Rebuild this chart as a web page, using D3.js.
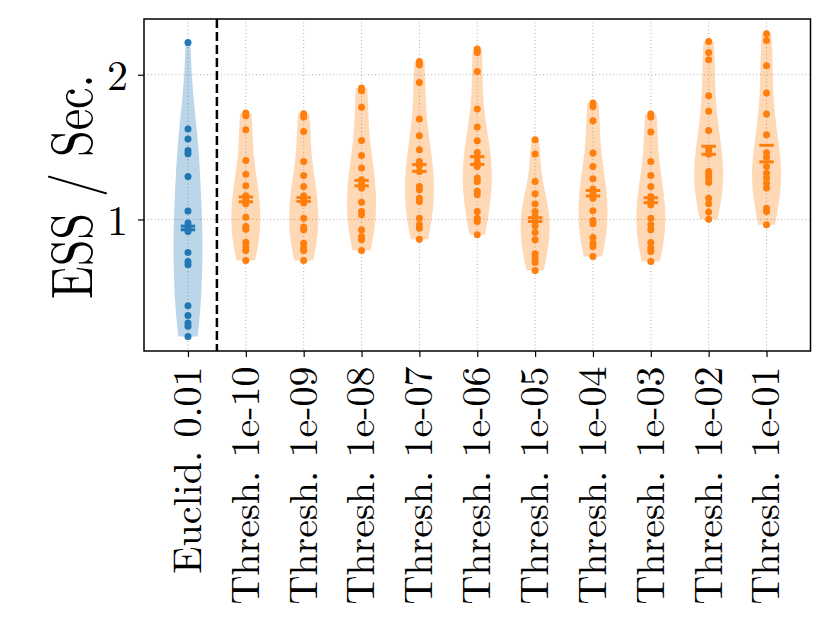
<!DOCTYPE html>
<html>
<head>
<meta charset="utf-8">
<script src="https://cdn.jsdelivr.net/npm/d3@7"></script>
<style>
  body { margin: 0; background: #fff; }
  text { font-family: 'Latin Modern Roman', 'Liberation Serif', monospace; fill: #000; }
</style>
</head>
<body>
<div id="chart"></div>
<script>
// labels for each violin
var labels = ["Euclid. 0.01", "Thresh. 1e-10", "Thresh. 1e-09", "Thresh. 1e-08", "Thresh. 1e-07",
  "Thresh. 1e-06", "Thresh. 1e-05", "Thresh. 1e-04", "Thresh. 1e-03", "Thresh. 1e-02", "Thresh. 1e-01"];

// ESS / sec per run
var euclid = [2.223, 1.625, 1.556, 1.477, 1.454, 1.297, 1.058, 0.975, 0.940, 0.917, 0.772, 0.710, 0.687, 0.404, 0.337, 0.285, 0.262, 0.191];
var t1e10 = [1.735, 1.717, 1.620, 1.408, 1.313, 1.233, 1.164, 1.136, 1.108, 1.016, 0.952, 0.933, 0.843, 0.809, 0.786, 0.717];
var t1e09 = [1.730, 1.707, 1.608, 1.401, 1.304, 1.228, 1.164, 1.136, 1.113, 1.009, 0.947, 0.929, 0.836, 0.802, 0.786, 0.717];
var t1e08 = [1.908, 1.889, 1.776, 1.546, 1.442, 1.355, 1.274, 1.247, 1.217, 1.118, 1.055, 1.032, 0.929, 0.883, 0.859, 0.786];
var t1e07 = [2.092, 2.069, 1.947, 1.694, 1.578, 1.482, 1.401, 1.371, 1.332, 1.228, 1.205, 1.147, 1.124, 1.009, 0.963, 0.940, 0.864];
var t1e06 = [2.177, 2.154, 2.023, 1.763, 1.638, 1.544, 1.463, 1.431, 1.394, 1.366, 1.286, 1.263, 1.194, 1.171, 1.055, 1.009, 0.986, 0.894];
var t1e05 = [1.551, 1.452, 1.263, 1.177, 1.106, 1.055, 1.021, 0.986, 0.956, 0.910, 0.860, 0.763, 0.733, 0.703, 0.648];
var t1e04 = [1.804, 1.781, 1.682, 1.459, 1.366, 1.281, 1.210, 1.177, 1.147, 1.060, 0.993, 0.970, 0.876, 0.837, 0.813, 0.744];
var t1e03 = [1.728, 1.707, 1.604, 1.401, 1.304, 1.228, 1.159, 1.131, 1.101, 1.009, 0.963, 0.929, 0.841, 0.802, 0.779, 0.710];
var t1e02 = [2.230, 2.154, 2.104, 1.855, 1.747, 1.615, 1.486, 1.463, 1.450, 1.332, 1.309, 1.286, 1.256, 1.147, 1.108, 1.051, 1.002];
var t1e01 = [2.283, 2.237, 2.062, 1.873, 1.728, 1.585, 1.460, 1.430, 1.366, 1.320, 1.286, 1.251, 1.217, 1.078, 1.055, 0.963];

var groups = [euclid, t1e10, t1e09, t1e08, t1e07, t1e06, t1e05, t1e04, t1e03, t1e02, t1e01];
var yTicks = [1, 2];

var serif = "'Latin Modern Roman', 'Liberation Serif', monospace";

var svgWidth = 830;
var svgHeight = 623;

var margin = { top: 19, right: 19.5, bottom: 272, left: 144 };
var width = svgWidth - margin.left - margin.right;
var height = svgHeight - margin.top - margin.bottom;

var svg = d3.select("#chart")
  .append("svg")
  .attr("width", svgWidth)
  .attr("height", svgHeight);

var g = svg.append("g")
  .attr("transform", `translate(${margin.left}, ${margin.top})`);

var xScale = d3.scaleLinear().domain([-0.76, 10.76]).range([0, width]);
var yScale = d3.scaleLinear().domain([0.091, 2.385]).range([height, 0]);

function colorOf(i) { return i === 0 ? "#1f77b4" : "#ff7f0e"; }

// gaussian kde with scott's bandwidth, evaluated between min and max
function kde(vals) {
  var n = vals.length;
  var bw = d3.deviation(vals) * Math.pow(n, -0.2);
  var lo = d3.min(vals), hi = d3.max(vals);
  var pts = d3.range(100).map(k => lo + (hi - lo) * k / 99);
  var dens = pts.map(p => [p, d3.sum(vals, v => Math.exp(-0.5 * Math.pow((p - v) / bw, 2)))]);
  var mx = d3.max(dens, d => d[1]);
  return dens.map(d => [d[0], d[1] / mx]);
}

// grid
g.append("g").selectAll("line")
  .data(d3.range(groups.length))
  .enter().append("line")
  .attr("x1", d => xScale(d)).attr("x2", d => xScale(d))
  .attr("y1", 0).attr("y2", height)
  .attr("stroke", "#b0b0b0").attr("stroke-width", 1).attr("stroke-dasharray", "1,2.5");

g.append("g").selectAll("line")
  .data(yTicks)
  .enter().append("line")
  .attr("x1", 0).attr("x2", width)
  .attr("y1", d => yScale(d)).attr("y2", d => yScale(d))
  .attr("stroke", "#b0b0b0").attr("stroke-width", 1).attr("stroke-dasharray", "1,2.5");

// violins
groups.forEach(function(vals, i) {
  var dens = kde(vals);
  var area = d3.area()
    .y(d => yScale(d[0]))
    .x0(d => xScale(i - 0.25 * d[1]))
    .x1(d => xScale(i + 0.25 * d[1]));
  g.append("path")
    .datum(dens)
    .attr("d", area)
    .attr("fill", colorOf(i))
    .attr("fill-opacity", 0.3);
});

// points
groups.forEach(function(vals, i) {
  g.append("g").selectAll("circle")
    .data(vals)
    .enter().append("circle")
    .attr("cx", xScale(i))
    .attr("cy", d => yScale(d))
    .attr("r", 3.5)
    .attr("fill", colorOf(i));
});

// mean and median bars
groups.forEach(function(vals, i) {
  [d3.mean(vals), d3.median(vals)].forEach(function(m) {
    g.append("line")
      .attr("x1", xScale(i - 0.125)).attr("x2", xScale(i + 0.125))
      .attr("y1", yScale(m)).attr("y2", yScale(m))
      .attr("stroke", colorOf(i)).attr("stroke-width", 3);
  });
});

// separator
g.append("line")
  .attr("x1", xScale(0.5)).attr("x2", xScale(0.5))
  .attr("y1", 0).attr("y2", height)
  .attr("stroke", "#000").attr("stroke-width", 2.5).attr("stroke-dasharray", "9,4");

// axes
var bottomAxis = d3.axisBottom(xScale)
  .tickValues(d3.range(groups.length))
  .tickFormat(d => labels[d])
  .tickSize(6).tickSizeOuter(0);

var xAxis = g.append("g")
  .attr("transform", `translate(0, ${height})`)
  .call(bottomAxis)
  .attr("font-family", serif);
xAxis.select(".domain").remove();
xAxis.selectAll("line").attr("stroke-width", 1.2);
xAxis.selectAll("text")
  .attr("transform", "rotate(-90)")
  .attr("x", -15.5)
  .attr("y", 0)
  .attr("dy", "0.31em")
  .style("text-anchor", "end")
  .style("font-size", "40px")
  .style("font-family", serif);

var leftAxis = d3.axisLeft(yScale)
  .tickValues(yTicks)
  .tickFormat(d3.format("d"))
  .tickSize(6).tickPadding(10).tickSizeOuter(0);

var yAxis = g.append("g").call(leftAxis)
  .attr("font-family", serif);
yAxis.select(".domain").remove();
yAxis.selectAll("line").attr("stroke-width", 1.2);
yAxis.selectAll("text")
  .attr("dy", "0.36em")
  .style("font-size", "42px")
  .style("font-family", serif);

// frame
g.append("rect")
  .attr("width", width).attr("height", height)
  .attr("fill", "none").attr("stroke", "#000").attr("stroke-width", 1.5);

svg.append("text")
  .attr("transform", "translate(91.7, 186.7) rotate(-90) scale(1, 1.22)")
  .style("text-anchor", "middle")
  .style("font-size", "48px")
  .style("font-family", serif)
  .text("ESS / Sec.");
</script>
</body>
</html>
